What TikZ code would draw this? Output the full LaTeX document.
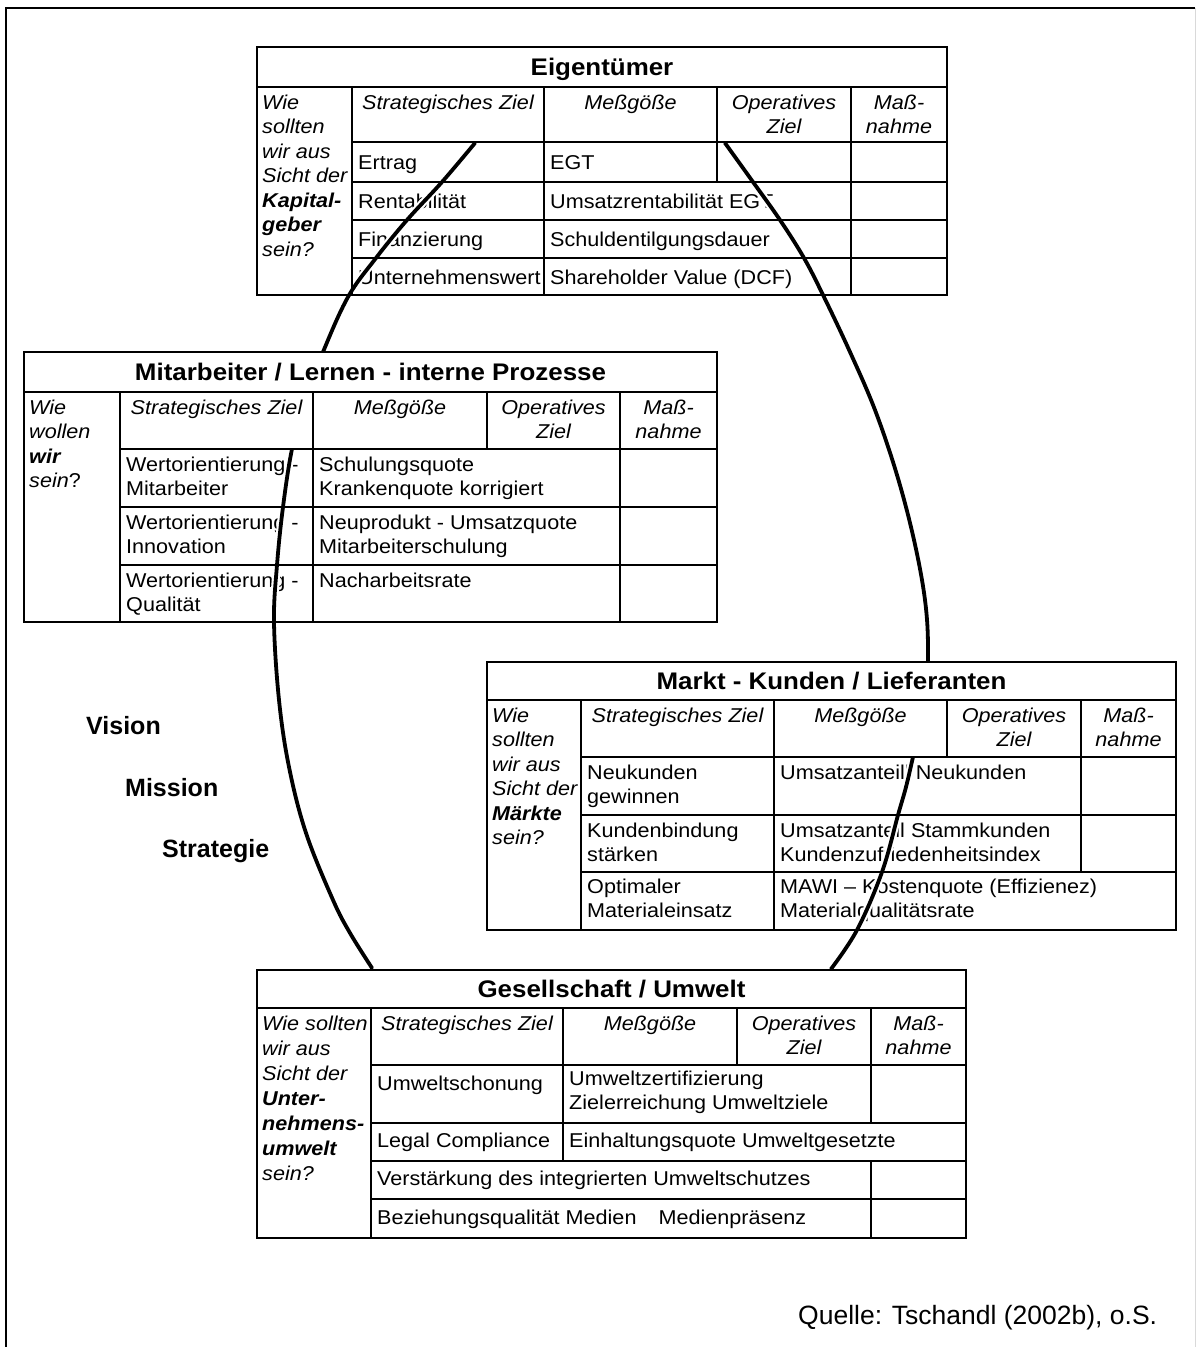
\documentclass[tikz,border=0pt]{standalone}
\usepackage{fontspec}
\newfontfamily\tabfont{Liberation Sans}[FakeStretch=1.08]
\newfontfamily\plainfont{Liberation Sans}
\begin{document}
% multi-line nodes are anchored at the baseline of their last line
\begin{tikzpicture}[x=1pt,y=-1pt,
  grid/.style={line width=1.7pt,black,line cap=rect},
  txt/.style={inner sep=0pt,font=\tabfont\fontsize{20}{24.5}\selectfont,align=left,anchor=base west},
  qst/.style={txt,font=\tabfont\itshape\fontsize{20}{24.5}\selectfont},
  hdr/.style={inner sep=0pt,font=\tabfont\itshape\fontsize{20}{24.5}\selectfont,align=center,anchor=base},
  ttl/.style={inner sep=0pt,font=\tabfont\bfseries\fontsize{24}{28}\selectfont,anchor=base},
  big/.style={inner sep=0pt,font=\plainfont\bfseries\fontsize{25}{30}\selectfont,anchor=base west},
  mask/.style={fill=white,draw=none},
  halo/.style={line width=8pt,white,line cap=round},
  arcline/.style={line width=3.8pt,black,line cap=round}]
\useasboundingbox (0,0) rectangle (1196,1347);

% outer frame
\draw[line width=2.2pt] (6,1347) -- (6,8) -- (1195,8);
\draw[black!15,line width=1pt] (1195,8) -- (1195,1347);

% ---------- body texts of the data rows (lie under the arcs) ----------
% Eigentuemer
\node[txt] (e1a) at (358,169.5) {Ertrag};
\node[txt] (e1b) at (550,169.5) {EGT};
\node[txt] (e2a) at (358,208.5) {Rentabilität};
\node[txt] (e2b) at (550,208.5) {Umsatzrentabilität EGT};
\node[txt] (e3a) at (358,246.5) {Finanzierung};
\node[txt] (e3b) at (550,246.5) {Schuldentilgungsdauer};
\node[txt] (e4a) at (358,284) {Unternehmenswert};
\node[txt] (e4b) at (550,284) {Shareholder Value (DCF)};
% Mitarbeiter
\node[txt] (m1a) at (126,495.5) {Wertorientierung -\\Mitarbeiter};
\node[txt] (m1b) at (319,495.5) {Schulungsquote\\Krankenquote korrigiert};
\node[txt] (m2a) at (126,553.5) {Wertorientierung -\\Innovation};
\node[txt] (m2b) at (319,553.5) {Neuprodukt - Umsatzquote\\Mitarbeiterschulung};
\node[txt] (m3a) at (126,611.5) {Wertorientierung -\\Qualität};
\node[txt] (m3b) at (319,587) {Nacharbeitsrate};
% Markt
\node[txt] (k1a) at (587,803.5) {Neukunden\\gewinnen};
\node[txt] (k1b) at (780,779) {Umsatzanteill Neukunden};
\node[txt] (k2a) at (587,861.5) {Kundenbindung\\stärken};
\node[txt] (k2b) at (780,861.5) {Umsatzanteil Stammkunden\\Kundenzufriedenheitsindex};
\node[txt] (k3a) at (587,917.5) {Optimaler\\Materialeinsatz};
\node[txt] (k3b) at (780,917.5) {MAWI – Kostenquote (Effizienez)\\Materialqualitätsrate};

% ---------- the two arcs ----------
\def\leftarc{(475,143) (442,182) (407,220) (376,258) (348,297) (323,352) (305,400) (292,449) (283,507) (277,565) (274,622) (279,700) (289,767) (306,833) (333,900) (350,933) (372,968)}
\def\rightarc{(725,143) (753,182) (780,220) (804,258) (824,297) (850,352) (875,410) (897,475) (914,540) (925,600) (928,650) (925,705) (913,757) (906,787) (898,815) (882,872) (857,930) (831,969)}
\draw[halo] plot[smooth,tension=0.6] coordinates {\leftarc};
\draw[halo] plot[smooth,tension=0.6] coordinates {\rightarc};
\draw[arcline] plot[smooth,tension=0.6] coordinates {\leftarc};
\draw[arcline] plot[smooth,tension=0.6] coordinates {\rightarc};

% opaque head rows and the lower table
\fill[mask] (257,47) rectangle (947,142);
\fill[mask] (24,352) rectangle (717,449);
\fill[mask] (487,662) rectangle (1176,757);
\fill[mask] (257,970) rectangle (966,1238);

% ---------- grid: Eigentuemer ----------
\draw[grid] (257,47) rectangle (947,295);
\draw[grid] (257,87) -- (947,87);
\draw[grid] (352,142) -- (947,142);
\draw[grid] (352,182) -- (947,182);
\draw[grid] (352,220) -- (947,220);
\draw[grid] (352,258) -- (947,258);
\draw[grid] (352,87) -- (352,295);
\draw[grid] (544,87) -- (544,295);
\draw[grid] (717,87) -- (717,182);
\draw[grid] (851,87) -- (851,295);
% ---------- grid: Mitarbeiter ----------
\draw[grid] (24,352) rectangle (717,622);
\draw[grid] (24,392) -- (717,392);
\draw[grid] (120,449) -- (717,449);
\draw[grid] (120,507) -- (717,507);
\draw[grid] (120,565) -- (717,565);
\draw[grid] (120,392) -- (120,622);
\draw[grid] (313,392) -- (313,622);
\draw[grid] (487,392) -- (487,449);
\draw[grid] (620,392) -- (620,622);
% ---------- grid: Markt ----------
\draw[grid] (487,662) rectangle (1176,930);
\draw[grid] (487,700) -- (1176,700);
\draw[grid] (581,757) -- (1176,757);
\draw[grid] (581,815) -- (1176,815);
\draw[grid] (581,872) -- (1176,872);
\draw[grid] (581,700) -- (581,930);
\draw[grid] (774,700) -- (774,930);
\draw[grid] (947,700) -- (947,757);
\draw[grid] (1081,700) -- (1081,872);
% ---------- grid: Gesellschaft ----------
\draw[grid] (257,970) rectangle (966,1238);
\draw[grid] (257,1008) -- (966,1008);
\draw[grid] (371,1065) -- (966,1065);
\draw[grid] (371,1123) -- (966,1123);
\draw[grid] (371,1161) -- (966,1161);
\draw[grid] (371,1199) -- (966,1199);
\draw[grid] (371,1008) -- (371,1238);
\draw[grid] (563,1008) -- (563,1161);
\draw[grid] (737,1008) -- (737,1065);
\draw[grid] (871,1008) -- (871,1123);
\draw[grid] (871,1161) -- (871,1238);

% ---------- titles, questions and column heads ----------
\node[ttl] (eT) at (602,75.5) {Eigentümer};
\node[qst] (eQ) at (262,256) {Wie\\sollten\\wir aus\\Sicht der\\\textbf{Kapital-}\\\textbf{geber}\\sein?};
\node[hdr] (eH1) at (448,109) {Strategisches Ziel};
\node[hdr] (eH2) at (630.5,109) {Meßgöße};
\node[hdr] (eH3) at (784,133.5) {Operatives\\Ziel};
\node[hdr] (eH4) at (899,133.5) {Maß-\\nahme};

\node[ttl] (mT) at (370.5,380.5) {Mitarbeiter / Lernen - interne Prozesse};
\node[qst] (mQ) at (29,487.5) {Wie\\wollen\\\textbf{wir}\\sein\textup{?}};
\node[hdr] (mH1) at (216.5,414) {Strategisches Ziel};
\node[hdr] (mH2) at (400,414) {Meßgöße};
\node[hdr] (mH3) at (553.5,438.5) {Operatives\\Ziel};
\node[hdr] (mH4) at (668.5,438.5) {Maß-\\nahme};

\node[ttl] (kT) at (831.5,689.5) {Markt - Kunden / Lieferanten};
\node[qst] (kQ) at (492,844.5) {Wie\\sollten\\wir aus\\Sicht der\\\textbf{Märkte}\\sein?};
\node[hdr] (kH1) at (677.5,722) {Strategisches Ziel};
\node[hdr] (kH2) at (860.5,722) {Meßgöße};
\node[hdr] (kH3) at (1014,746.5) {Operatives\\Ziel};
\node[hdr] (kH4) at (1128.5,746.5) {Maß-\\nahme};

\node[ttl] (gT) at (611.5,997.5) {Gesellschaft / Umwelt};
\node[qst,font=\tabfont\itshape\fontsize{20}{25}\selectfont] (gQ) at (262,1180) {Wie sollten\\wir aus\\Sicht der\\\textbf{Unter-}\\\textbf{nehmens-}\\\textbf{umwelt}\\sein?};
\node[hdr] (gH1) at (467,1030) {Strategisches Ziel};
\node[hdr] (gH2) at (650,1030) {Meßgöße};
\node[hdr] (gH3) at (804,1054.5) {Operatives\\Ziel};
\node[hdr] (gH4) at (918.5,1054.5) {Maß-\\nahme};
\node[txt] (g1a) at (377,1090) {Umweltschonung};
\node[txt] (g1b) at (569,1109.5) {Umweltzertifizierung\\Zielerreichung Umweltziele};
\node[txt] (g2a) at (377,1147) {Legal Compliance};
\node[txt] (g2b) at (569,1147) {Einhaltungsquote Umweltgesetzte};
\node[txt] (g3) at (377,1185) {Verstärkung des integrierten Umweltschutzes};
\node[txt] (g4) at (377,1224) {Beziehungsqualität Medien\hspace{22pt}Medienpräsenz};

% ---------- free labels ----------
\node[big] (vision) at (86,734) {Vision};
\node[big] (mission) at (125,796.5) {Mission};
\node[big] (strategie) at (162,857) {Strategie};
\node[inner sep=0pt,anchor=base west,font=\plainfont\fontsize{26.5}{30}\selectfont] (quelle) at (798,1324) {Quelle: Tschandl (2002b), o.S.};
\end{tikzpicture}
\end{document}
